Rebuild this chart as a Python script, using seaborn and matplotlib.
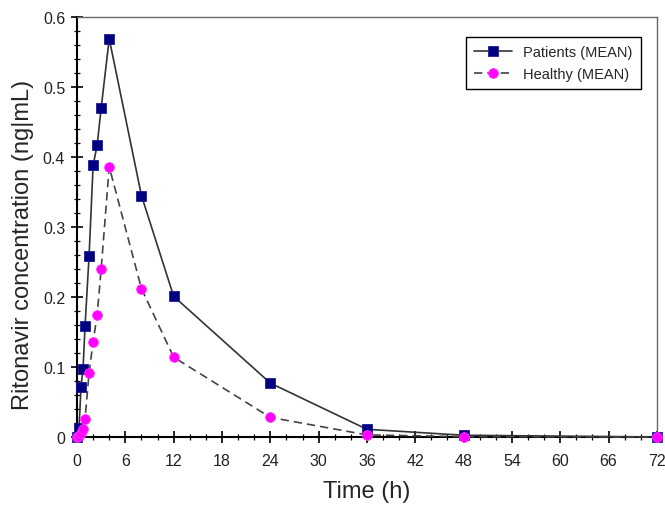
import pandas as pd
import matplotlib
matplotlib.use("Agg")
import matplotlib.pyplot as plt
from matplotlib.ticker import MultipleLocator
import seaborn as sns

# sampling times (h)
time_h = [0, 0.25, 0.5, 0.75, 1, 1.5, 2, 2.5, 3, 4, 8, 12, 24, 36, 48, 72]
# mean ritonavir concentration (ng|mL)
patients_mean = [0, 0.013, 0.072, 0.097, 0.159, 0.259, 0.388, 0.417, 0.470, 0.569,
                 0.345, 0.201, 0.077, 0.011, 0.0025, 0]
healthy_mean = [0, 0.002, 0.006, 0.011, 0.026, 0.092, 0.136, 0.174, 0.240, 0.386,
                0.212, 0.114, 0.028, 0.003, 0.0005, 0]
series_labels = ["Patients (MEAN)", "Healthy (MEAN)"]

df = pd.DataFrame({"Time": time_h, "Patients": patients_mean, "Healthy": healthy_mean})

sns.set_style("ticks")
plt.rcParams["font.family"] = ["Liberation Sans", "DejaVu Sans"]

fig = plt.figure(figsize=(6.65, 5.06), dpi=100)
ax = fig.add_axes([0.1158, 0.1344, 0.872, 0.830])

sns.lineplot(data=df, x="Time", y="Patients", ax=ax, color="#333333", linewidth=1.2,
             marker="s", markersize=7, markerfacecolor="#000080", markeredgecolor="#1a1a99",
             markeredgewidth=0.6, label=series_labels[0], clip_on=False, zorder=3)
sns.lineplot(data=df, x="Time", y="Healthy", ax=ax, color="#444444", linewidth=1.2,
             linestyle=(0, (5, 3)), marker="o", markersize=7, markerfacecolor="#ff00ff",
             markeredgecolor="#ff33ff", markeredgewidth=0.6, label=series_labels[1],
             clip_on=False, zorder=3)

ax.set_xlim(0, 72)
ax.set_ylim(0, 0.6)
ax.xaxis.set_major_locator(MultipleLocator(6))
ax.xaxis.set_minor_locator(MultipleLocator(2))
ax.yaxis.set_minor_locator(MultipleLocator(0.02))
ax.set_yticks([0, 0.1, 0.2, 0.3, 0.4, 0.5, 0.6])
ax.set_yticklabels(["0", "0.1", "0.2", "0.3", "0.4", "0.5", "0.6"])

ax.tick_params(which="major", direction="inout", length=9, width=1.2, colors="black",
               labelsize=11.5)
ax.tick_params(axis="x", which="major", pad=7)
ax.tick_params(axis="y", which="major", pad=4)
ax.tick_params(which="minor", direction="inout", length=5, width=0.9, colors="black")
for lab in ax.get_xticklabels() + ax.get_yticklabels():
    lab.set_color("#222222")

for side in ["left", "bottom"]:
    ax.spines[side].set_color("black")
    ax.spines[side].set_linewidth(1.5)
for side in ["top", "right"]:
    ax.spines[side].set_visible(True)
    ax.spines[side].set_color("#666666")
    ax.spines[side].set_linewidth(1.0)

ax.set_xlabel("Time (h)", fontsize=17, labelpad=9)
ax.set_ylabel("Ritonavir concentration (ng|mL)", fontsize=17)
ax.yaxis.set_label_coords(-0.075, 0.46)

leg = ax.legend(loc="upper right", bbox_to_anchor=(0.9724, 0.952), borderaxespad=0,
                fontsize=10.5, frameon=True, fancybox=False, edgecolor="black",
                framealpha=1, handlelength=2.6, borderpad=0.55, labelspacing=0.55)
leg.get_frame().set_linewidth(1.0)

fig.savefig("out.png", dpi=100)
